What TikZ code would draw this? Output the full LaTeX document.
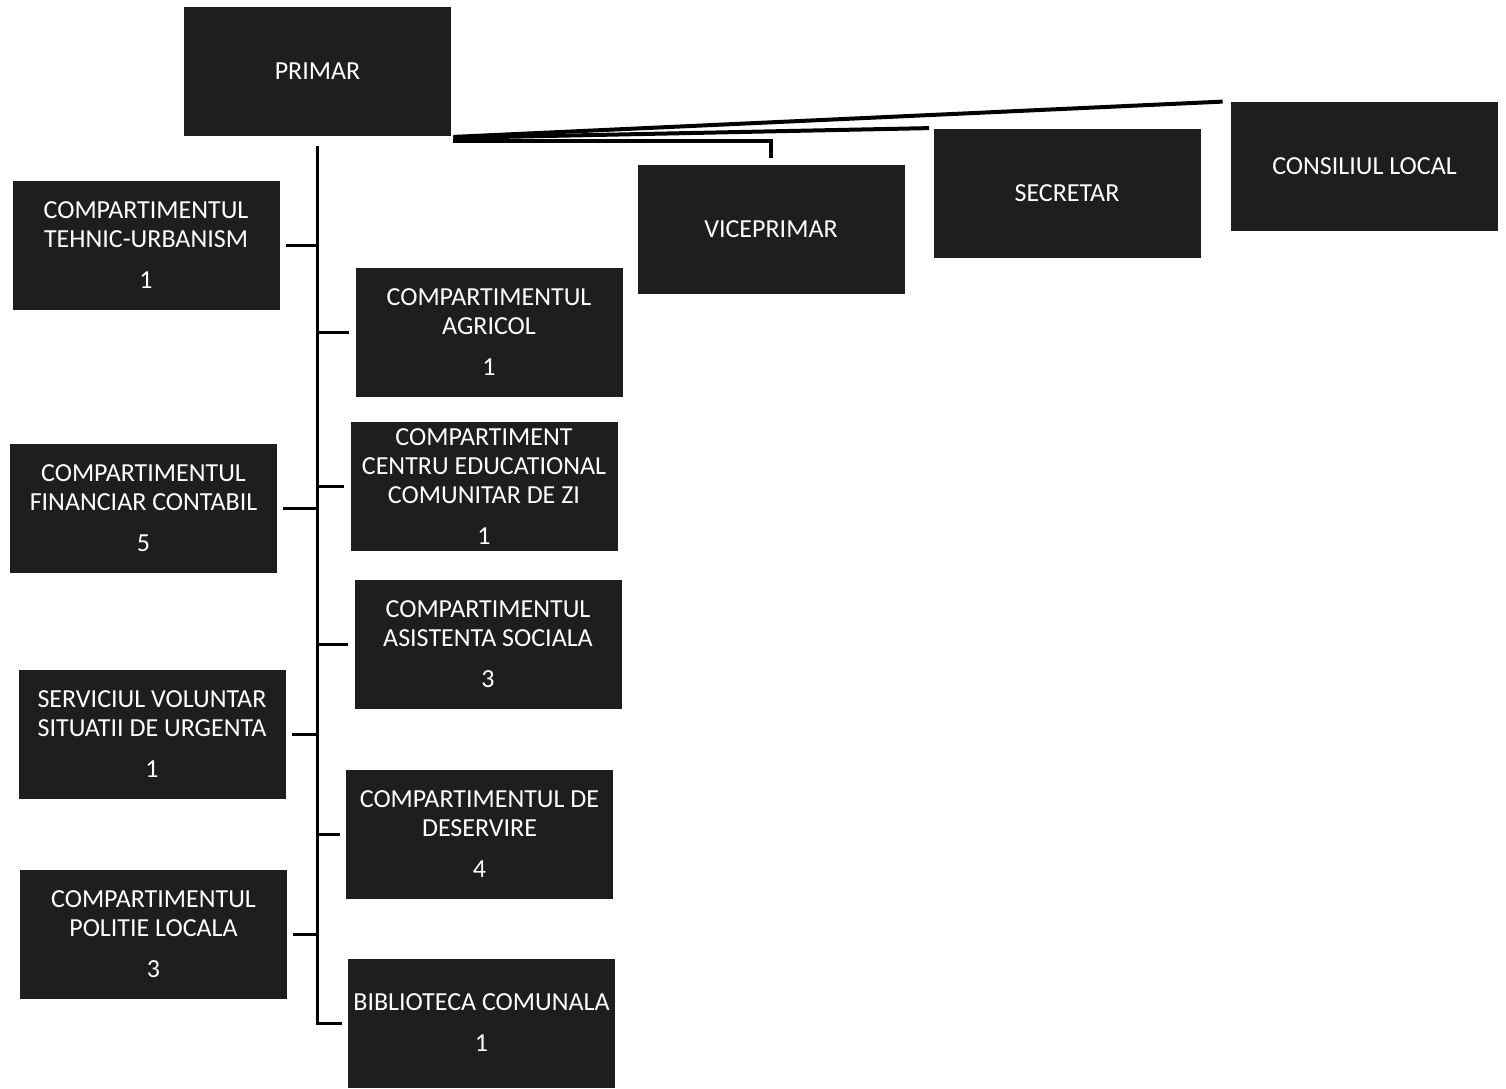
\documentclass[tikz,border=0pt]{standalone}
\usepackage{fontspec}
\setmainfont{Carlito}
\usepackage{tikz}
\usetikzlibrary{positioning, calc}
\definecolor{boxdark}{RGB}{30,30,30}

\begin{document}
\begin{tikzpicture}[
      x=0.5pt, y=-0.5pt,
      unit/.style={rectangle, fill=boxdark, text=white, align=center, minimum width=133.5pt, minimum height=64.5pt, inner sep=1pt, font=\fontsize{13}{14.5}\selectfont},
      conn/.style={line width=1.5pt, black},
      topconn/.style={line width=2pt, black}
    ]
    \useasboundingbox (0,0) rectangle (1506,1088);

    % TOP LEVEL
    \node[unit] (primar) at (317.5,71) {PRIMAR};
    \node[unit] (vice) at (771,229) {VICEPRIMAR};
    \node[unit] (secretar) at (1067,193) {SECRETAR};
    \node[unit] (consiliu) at (1364.5,166.5) {CONSILIUL LOCAL};

    % LEFT COLUMN
    \node[unit] (tehnic) at (146,245.5) {COMPARTIMENTUL\\TEHNIC-URBANISM\\[6pt]1};
    \node[unit] (financiar) at (143.5,508.5) {COMPARTIMENTUL\\FINANCIAR CONTABIL\\[6pt]5};
    \node[unit] (voluntar) at (152,734.5) {SERVICIUL VOLUNTAR\\SITUATII DE URGENTA\\[6pt]1};
    \node[unit] (politie) at (153.5,934.5) {COMPARTIMENTUL\\POLITIE LOCALA\\[6pt]3};

    % RIGHT COLUMN
    \node[unit] (agricol) at (489,332.5) {COMPARTIMENTUL\\AGRICOL\\[6pt]1};
    \node[unit] (centru) at (484,486.5) {COMPARTIMENT\\CENTRU EDUCATIONAL\\COMUNITAR DE ZI\\[6pt]1};
    \node[unit] (asistenta) at (488,644.5) {COMPARTIMENTUL\\ASISTENTA SOCIALA\\[6pt]3};
    \node[unit] (deservire) at (479.5,834.5) {COMPARTIMENTUL DE\\DESERVIRE\\[6pt]4};
    \node[unit] (biblioteca) at (481.5,1023) {BIBLIOTECA COMUNALA\\[6pt]1};

    %%% LINKS TO VICEPRIMAR, SECRETAR, CONSILIU
    \draw[topconn] ([xshift=1pt,yshift=-0.5pt]primar.south east) -- ([xshift=-4pt]consiliu.north west);
    \draw[topconn] ([xshift=1pt,yshift=-1pt]primar.south east) -- ([xshift=-2pt]secretar.north west);
    \draw[topconn] ([xshift=1pt,yshift=-2.5pt]primar.south east) -| ([yshift=3pt]vice.north);

    %%% MAIN SPINE
    \coordinate (spine) at ([yshift=-5pt]primar.south);
    \draw[conn] (spine) |- ([xshift=-3pt]biblioteca.west);

    % left branches
    \foreach \n in {tehnic, financiar, voluntar, politie}
      \draw[conn] ([xshift=3pt]\n.east) -- (\n.east -| spine);

    % right branches
    \foreach \n in {agricol, centru, asistenta, deservire}
      \draw[conn] (\n.west -| spine) -- ([xshift=-3pt]\n.west);
\end{tikzpicture}
\end{document}
